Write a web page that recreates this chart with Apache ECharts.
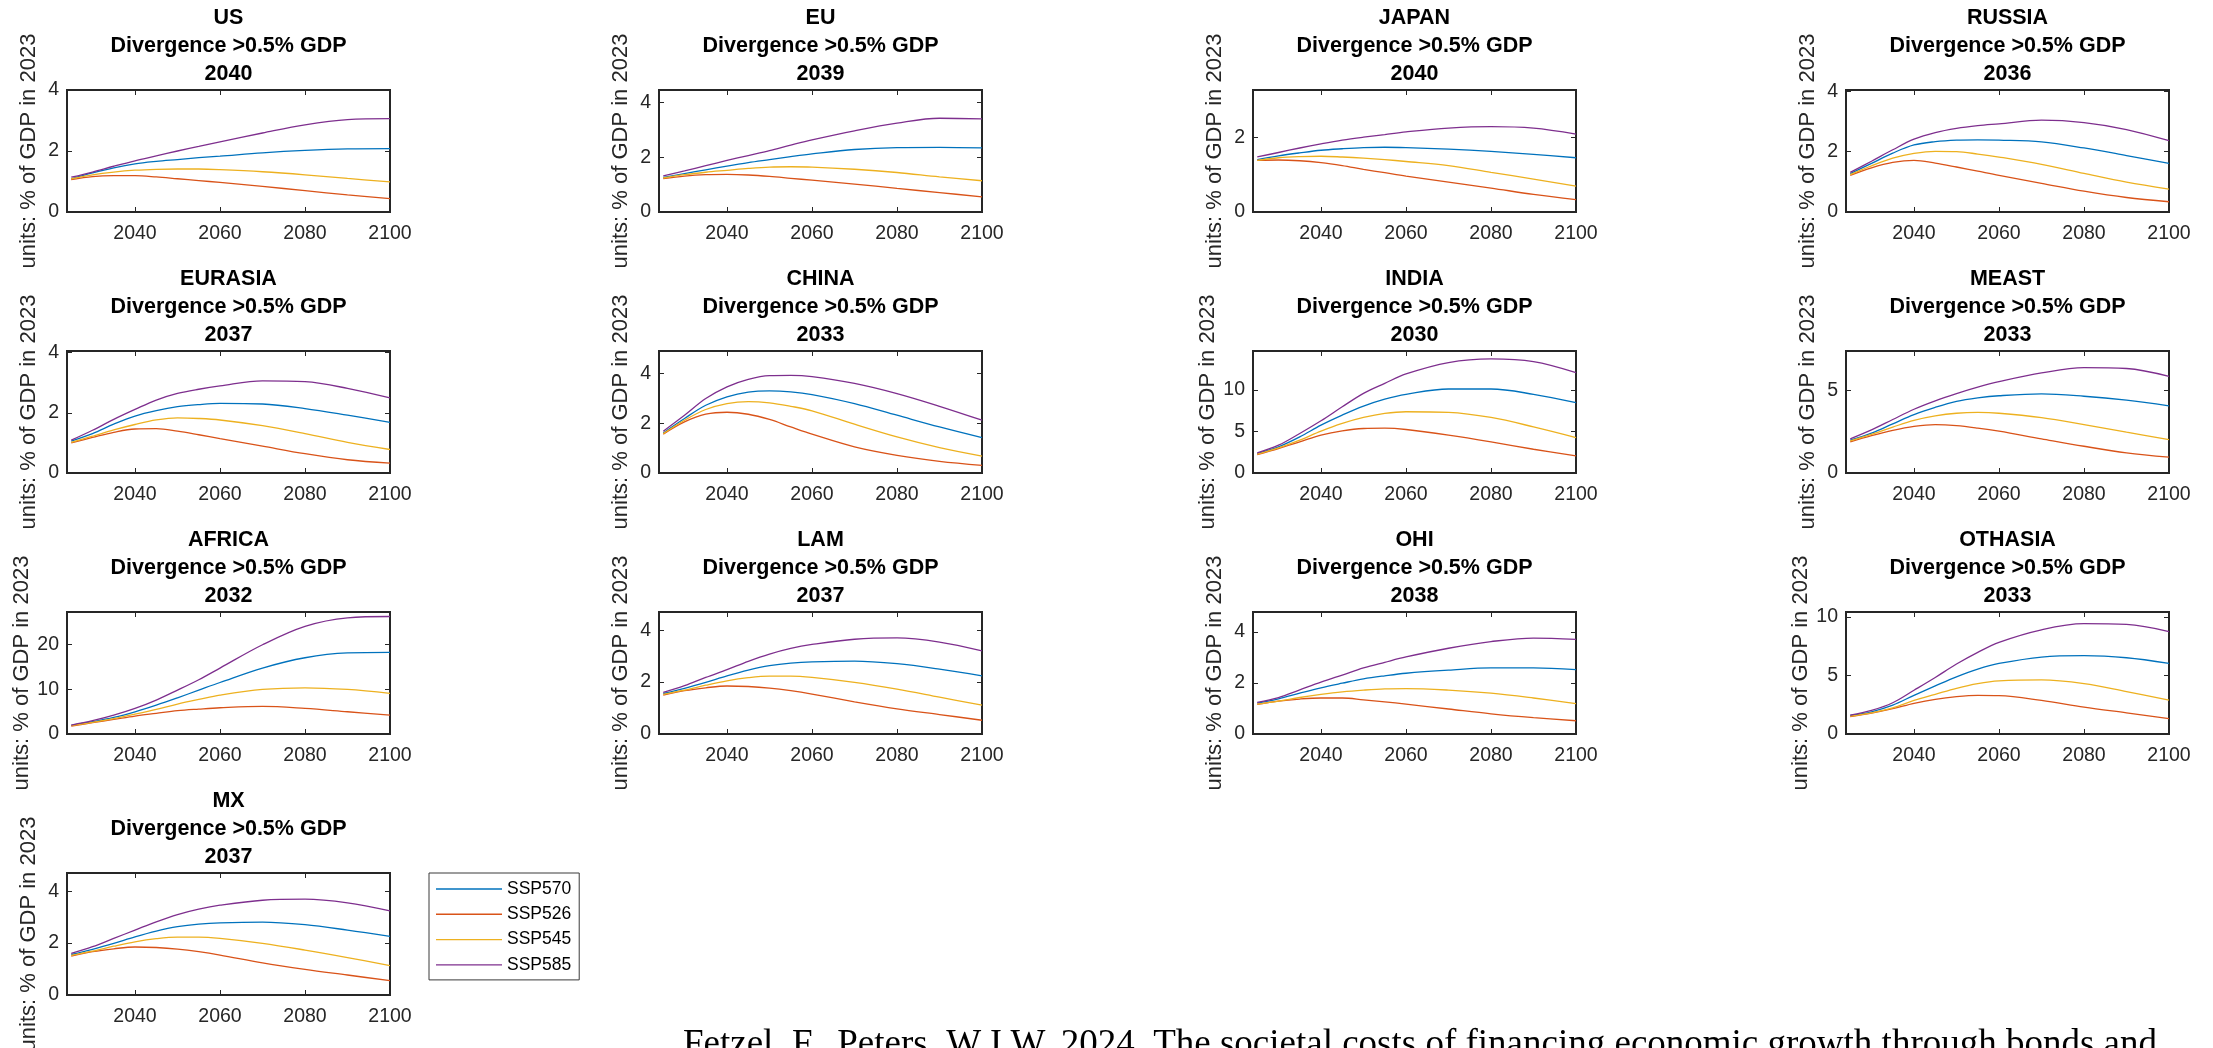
<!DOCTYPE html>
<html>
<head>
<meta charset="utf-8">
<script src="https://cdn.jsdelivr.net/npm/echarts@6/dist/echarts.min.js"></script>
<style>
html,body{margin:0;padding:0;background:#fff;}
#chart{width:2213px;height:1048px;}
</style>
</head>
<body>
<div id="chart"></div>
<script>
// ---------- DATA ----------
const years = [2025, 2030, 2035, 2040, 2045, 2050, 2055, 2060, 2070, 2080, 2090, 2100];
const scenarios = ['SSP570', 'SSP526', 'SSP545', 'SSP585'];
const regions = ['US', 'EU', 'JAPAN', 'RUSSIA', 'EURASIA', 'CHINA', 'INDIA', 'MEAST', 'AFRICA', 'LAM', 'OHI', 'OTHASIA', 'MX'];
const divergenceYears = [2040, 2039, 2040, 2036, 2037, 2033, 2030, 2033, 2032, 2037, 2038, 2033, 2037];
const yMax = [4.0, 4.45, 3.26, 4.04, 4.05, 4.9, 14.7, 7.39, 27.2, 4.7, 4.78, 10.43, 4.7];
const yStep = [2, 2, 2, 2, 2, 2, 5, 5, 10, 2, 2, 5, 2];
const xTickLabels = [2040, 2060, 2080, 2100];

const US_SSP570 = [1.09, 1.28, 1.45, 1.58, 1.66, 1.72, 1.78, 1.83, 1.94, 2.02, 2.07, 2.08];
const US_SSP526 = [1.06, 1.16, 1.19, 1.19, 1.15, 1.09, 1.03, 0.97, 0.84, 0.70, 0.56, 0.44];
const US_SSP545 = [1.09, 1.22, 1.31, 1.37, 1.40, 1.41, 1.41, 1.39, 1.32, 1.22, 1.10, 0.99];
const US_SSP585 = [1.14, 1.31, 1.50, 1.68, 1.84, 2.00, 2.15, 2.30, 2.59, 2.86, 3.03, 3.06];

const EU_SSP570 = [1.26, 1.40, 1.54, 1.67, 1.80, 1.91, 2.02, 2.12, 2.28, 2.35, 2.36, 2.34];
const EU_SSP526 = [1.22, 1.31, 1.36, 1.37, 1.35, 1.30, 1.23, 1.16, 1.02, 0.86, 0.71, 0.55];
const EU_SSP545 = [1.24, 1.36, 1.45, 1.52, 1.59, 1.64, 1.65, 1.64, 1.56, 1.44, 1.28, 1.14];
const EU_SSP585 = [1.32, 1.50, 1.69, 1.88, 2.06, 2.24, 2.44, 2.63, 2.96, 3.24, 3.42, 3.40];

const JAPAN_SSP570 = [1.40, 1.50, 1.58, 1.65, 1.69, 1.72, 1.73, 1.72, 1.68, 1.62, 1.54, 1.45];
const JAPAN_SSP526 = [1.38, 1.39, 1.37, 1.32, 1.24, 1.14, 1.05, 0.96, 0.80, 0.64, 0.47, 0.33];
const JAPAN_SSP545 = [1.38, 1.45, 1.48, 1.49, 1.47, 1.44, 1.40, 1.35, 1.24, 1.06, 0.88, 0.69];
const JAPAN_SSP585 = [1.47, 1.59, 1.71, 1.82, 1.92, 2.00, 2.07, 2.14, 2.24, 2.28, 2.24, 2.08];

const RUSSIA_SSP570 = [1.27, 1.61, 1.95, 2.22, 2.33, 2.38, 2.39, 2.38, 2.32, 2.12, 1.87, 1.61];
const RUSSIA_SSP526 = [1.21, 1.46, 1.64, 1.71, 1.62, 1.49, 1.35, 1.21, 0.95, 0.69, 0.48, 0.34];
const RUSSIA_SSP545 = [1.24, 1.53, 1.78, 1.94, 2.01, 2.00, 1.92, 1.82, 1.58, 1.28, 0.99, 0.76];
const RUSSIA_SSP585 = [1.31, 1.68, 2.06, 2.41, 2.63, 2.77, 2.86, 2.92, 3.04, 2.96, 2.73, 2.36];

const EURASIA_SSP570 = [1.06, 1.31, 1.62, 1.89, 2.07, 2.20, 2.27, 2.31, 2.29, 2.14, 1.92, 1.68];
const EURASIA_SSP526 = [1.00, 1.18, 1.35, 1.46, 1.47, 1.39, 1.27, 1.14, 0.89, 0.64, 0.44, 0.33];
const EURASIA_SSP545 = [1.02, 1.22, 1.43, 1.61, 1.76, 1.83, 1.81, 1.76, 1.57, 1.31, 1.02, 0.78];
const EURASIA_SSP585 = [1.09, 1.42, 1.78, 2.11, 2.42, 2.64, 2.78, 2.89, 3.06, 3.03, 2.81, 2.49];

const CHINA_SSP570 = [1.61, 2.19, 2.72, 3.06, 3.25, 3.30, 3.26, 3.15, 2.79, 2.32, 1.85, 1.42];
const CHINA_SSP526 = [1.56, 2.05, 2.36, 2.44, 2.36, 2.15, 1.85, 1.56, 1.05, 0.71, 0.47, 0.31];
const CHINA_SSP545 = [1.58, 2.12, 2.55, 2.79, 2.87, 2.82, 2.68, 2.50, 1.96, 1.45, 1.02, 0.68];
const CHINA_SSP585 = [1.68, 2.32, 2.99, 3.46, 3.76, 3.91, 3.92, 3.87, 3.60, 3.19, 2.68, 2.12];

const INDIA_SSP570 = [2.34, 3.15, 4.35, 5.77, 6.98, 8.06, 8.90, 9.48, 10.12, 10.12, 9.48, 8.47];
const INDIA_SSP526 = [2.22, 2.94, 3.75, 4.56, 5.08, 5.36, 5.40, 5.24, 4.56, 3.75, 2.86, 2.06];
const INDIA_SSP545 = [2.26, 3.02, 3.95, 5.04, 5.97, 6.69, 7.18, 7.38, 7.30, 6.69, 5.56, 4.27];
const INDIA_SSP585 = [2.42, 3.35, 4.76, 6.29, 7.98, 9.60, 10.80, 11.94, 13.31, 13.75, 13.43, 12.10];

const MEAST_SSP570 = [1.99, 2.42, 2.98, 3.54, 3.98, 4.34, 4.55, 4.68, 4.79, 4.65, 4.41, 4.07];
const MEAST_SSP526 = [1.89, 2.26, 2.58, 2.82, 2.93, 2.87, 2.72, 2.53, 2.07, 1.62, 1.22, 0.96];
const MEAST_SSP545 = [1.94, 2.34, 2.78, 3.19, 3.46, 3.62, 3.67, 3.62, 3.35, 2.93, 2.47, 2.02];
const MEAST_SSP585 = [2.07, 2.61, 3.24, 3.86, 4.37, 4.81, 5.20, 5.53, 6.06, 6.38, 6.33, 5.85];

const AFRICA_SSP570 = [1.93, 2.74, 3.70, 4.96, 6.44, 8.07, 9.78, 11.48, 14.70, 17.00, 18.07, 18.20];
const AFRICA_SSP526 = [1.78, 2.52, 3.25, 4.00, 4.60, 5.19, 5.55, 5.85, 6.15, 5.70, 4.96, 4.22];
const AFRICA_SSP545 = [1.85, 2.60, 3.45, 4.44, 5.50, 6.67, 7.70, 8.67, 9.93, 10.30, 9.93, 9.04];
const AFRICA_SSP585 = [2.00, 2.96, 4.20, 5.70, 7.56, 9.78, 12.10, 14.70, 19.90, 24.00, 25.90, 26.20];

const LAM_SSP570 = [1.56, 1.76, 1.99, 2.24, 2.46, 2.63, 2.73, 2.78, 2.81, 2.71, 2.50, 2.24];
const LAM_SSP526 = [1.50, 1.67, 1.78, 1.85, 1.83, 1.77, 1.67, 1.54, 1.24, 0.97, 0.75, 0.53];
const LAM_SSP545 = [1.53, 1.69, 1.88, 2.05, 2.17, 2.23, 2.23, 2.18, 1.99, 1.73, 1.42, 1.11];
const LAM_SSP585 = [1.60, 1.86, 2.18, 2.48, 2.80, 3.08, 3.30, 3.45, 3.65, 3.70, 3.54, 3.20];

const OHI_SSP570 = [1.21, 1.38, 1.60, 1.81, 1.99, 2.16, 2.28, 2.38, 2.50, 2.59, 2.59, 2.52];
const OHI_SSP526 = [1.16, 1.29, 1.37, 1.41, 1.41, 1.34, 1.26, 1.17, 0.98, 0.79, 0.64, 0.52];
const OHI_SSP545 = [1.17, 1.29, 1.43, 1.55, 1.65, 1.72, 1.77, 1.78, 1.72, 1.60, 1.41, 1.19];
const OHI_SSP585 = [1.24, 1.43, 1.73, 2.03, 2.31, 2.59, 2.81, 3.02, 3.36, 3.62, 3.76, 3.71];

const OTHASIA_SSP570 = [1.58, 1.90, 2.47, 3.30, 4.11, 4.89, 5.55, 6.03, 6.58, 6.70, 6.52, 6.03];
const OTHASIA_SSP526 = [1.49, 1.78, 2.16, 2.61, 2.96, 3.19, 3.30, 3.28, 2.87, 2.30, 1.81, 1.32];
const OTHASIA_SSP545 = [1.52, 1.81, 2.24, 2.87, 3.39, 3.91, 4.31, 4.54, 4.63, 4.31, 3.62, 2.90];
const OTHASIA_SSP585 = [1.61, 2.01, 2.67, 3.74, 4.83, 5.98, 6.98, 7.84, 8.91, 9.43, 9.37, 8.76];

const MX_SSP570 = [1.56, 1.76, 1.99, 2.24, 2.46, 2.63, 2.73, 2.78, 2.81, 2.71, 2.50, 2.26];
const MX_SSP526 = [1.50, 1.67, 1.78, 1.85, 1.83, 1.77, 1.67, 1.54, 1.24, 0.99, 0.77, 0.55];
const MX_SSP545 = [1.53, 1.69, 1.88, 2.05, 2.17, 2.23, 2.23, 2.18, 1.99, 1.73, 1.44, 1.13];
const MX_SSP585 = [1.60, 1.86, 2.18, 2.50, 2.82, 3.10, 3.31, 3.46, 3.65, 3.69, 3.55, 3.24];

const caption = 'Fetzel, F., Peters, W.J.W. 2024. The societal costs of financing economic growth through bonds and';

// ---------- BUILD ----------
const regionSeries = {
  US: [US_SSP570, US_SSP526, US_SSP545, US_SSP585],
  EU: [EU_SSP570, EU_SSP526, EU_SSP545, EU_SSP585],
  JAPAN: [JAPAN_SSP570, JAPAN_SSP526, JAPAN_SSP545, JAPAN_SSP585],
  RUSSIA: [RUSSIA_SSP570, RUSSIA_SSP526, RUSSIA_SSP545, RUSSIA_SSP585],
  EURASIA: [EURASIA_SSP570, EURASIA_SSP526, EURASIA_SSP545, EURASIA_SSP585],
  CHINA: [CHINA_SSP570, CHINA_SSP526, CHINA_SSP545, CHINA_SSP585],
  INDIA: [INDIA_SSP570, INDIA_SSP526, INDIA_SSP545, INDIA_SSP585],
  MEAST: [MEAST_SSP570, MEAST_SSP526, MEAST_SSP545, MEAST_SSP585],
  AFRICA: [AFRICA_SSP570, AFRICA_SSP526, AFRICA_SSP545, AFRICA_SSP585],
  LAM: [LAM_SSP570, LAM_SSP526, LAM_SSP545, LAM_SSP585],
  OHI: [OHI_SSP570, OHI_SSP526, OHI_SSP545, OHI_SSP585],
  OTHASIA: [OTHASIA_SSP570, OTHASIA_SSP526, OTHASIA_SSP545, OTHASIA_SSP585],
  MX: [MX_SSP570, MX_SSP526, MX_SSP545, MX_SSP585]
};

const colors = ['#0072BD', '#D95319', '#EDB120', '#7E2F8E'];
const AX = '#262626';
const SANS = '"Liberation Sans", Arial, Helvetica, sans-serif';
const colLeft = [67, 659, 1253, 1846];
const rowTop = [90, 351, 612, 873];
const plotW = 323, plotH = 122;

const grids = [], xAxes = [], yAxes = [], series = [], titles = [];

regions.forEach((reg, i) => {
  const col = i % 4, row = Math.floor(i / 4);
  const left = colLeft[col], top = rowTop[row];
  grids.push({
    left: left, top: top, width: plotW, height: plotH,
    show: true, borderColor: AX, borderWidth: 2, backgroundColor: 'transparent',
    containLabel: false, outerBoundsMode: 'none'
  });
  const step = yStep[i];
  const tickCommon = { show: true, inside: true, length: 5, lineStyle: { color: AX, width: 1 } };
  xAxes.push({
    gridIndex: i, type: 'value', position: 'bottom', min: 2024, max: 2100,
    axisLine: { show: false, onZero: false },
    axisTick: Object.assign({ customValues: xTickLabels }, tickCommon),
    axisLabel: { show: true, customValues: xTickLabels, formatter: v => String(Math.round(v)),
                 color: AX, fontSize: 19.5, fontFamily: SANS, margin: 12 },
    splitLine: { show: false }
  });
  xAxes.push({
    gridIndex: i, type: 'value', position: 'top', min: 2024, max: 2100,
    axisLine: { show: false, onZero: false },
    axisTick: Object.assign({ customValues: xTickLabels }, tickCommon),
    axisLabel: { show: false, customValues: xTickLabels },
    splitLine: { show: false }
  });
  const fmt = v => {
    const k = v / step;
    return Math.abs(k - Math.round(k)) < 1e-6 ? String(Math.round(v)) : '';
  };
  yAxes.push({
    gridIndex: i, type: 'value', position: 'left', min: 0, max: yMax[i], interval: step,
    axisLine: { show: false, onZero: false },
    axisTick: tickCommon,
    axisLabel: { show: true, formatter: fmt, color: AX, fontSize: 19.5, fontFamily: SANS, margin: 8, showMaxLabel: true },
    splitLine: { show: false },
    name: 'units: % of GDP in 2023', nameLocation: 'middle', nameGap: 27,
    nameTextStyle: { color: AX, fontSize: 22, fontFamily: SANS }
  });
  yAxes.push({
    gridIndex: i, type: 'value', position: 'right', min: 0, max: yMax[i], interval: step,
    axisLine: { show: false, onZero: false },
    axisTick: tickCommon,
    axisLabel: { show: false },
    splitLine: { show: false }
  });
  regionSeries[reg].forEach((vals, s) => {
    series.push({
      type: 'line', name: scenarios[s], xAxisIndex: i * 2, yAxisIndex: i * 2,
      data: years.map((yr, k) => [yr, vals[k]]),
      symbol: 'none', smooth: 0.35, silent: true,
      lineStyle: { color: colors[s], width: 1.3 },
      itemStyle: { color: colors[s] },
      animation: false
    });
  });
  titles.push({
    text: reg + '\nDivergence >0.5% GDP\n' + divergenceYears[i],
    left: left + plotW / 2, top: top - 86, textAlign: 'center', padding: 0,
    textStyle: { fontFamily: SANS, fontWeight: 'bold', fontSize: 21.5, lineHeight: 28, color: '#000' }
  });
});

const chart = echarts.init(document.getElementById('chart'), null, { renderer: 'canvas' });
chart.setOption({
  backgroundColor: '#fff',
  animation: false,
  title: titles,
  grid: grids,
  xAxis: xAxes,
  yAxis: yAxes,
  series: series,
  legend: {
    data: scenarios, orient: 'vertical', left: 429, top: 873,
    padding: [7, 8, 6, 7], icon: 'rect', itemWidth: 66, itemHeight: 1.4, itemGap: 7.3,
    borderColor: '#3a3a3a', borderWidth: 1, backgroundColor: '#fff',
    textStyle: { color: '#000', fontSize: 17.5, fontFamily: SANS, lineHeight: 16, height: 16 },
    selectedMode: false
  },
  graphic: [{
    type: 'text', left: 683, top: 1027, silent: true,
    style: { text: caption, fill: '#000', font: '37px "Liberation Serif", "Times New Roman", serif' }
  }]
});
</script>
</body>
</html>
